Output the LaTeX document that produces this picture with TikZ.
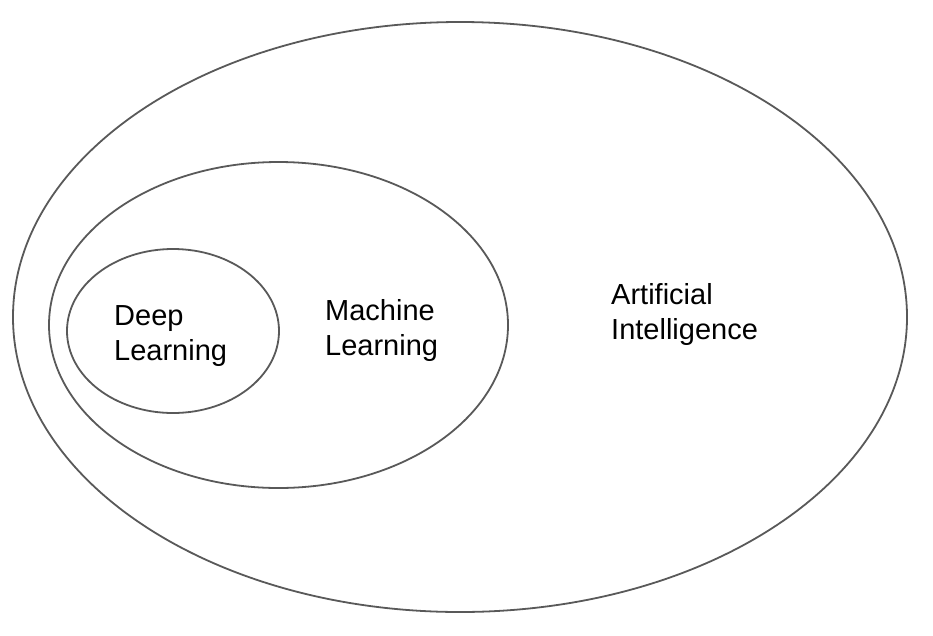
\documentclass[tikz,border=0pt]{standalone}
\usepackage{fontspec}
\setmainfont{Liberation Sans}
\usetikzlibrary{shapes.geometric}
\definecolor{ringgray}{HTML}{595959}

\tikzset{
  ring/.style = {draw = ringgray, line width = 1.8pt, ellipse, inner sep = 0pt},
  label/.style = {anchor = west, align = left, inner sep = 0pt,
    font = \fontsize{29}{35}\selectfont}
}

\begin{document}
\begin{tikzpicture}[x = 1pt, y = -1pt]

\useasboundingbox (0, 0) rectangle (933, 635);

% the three nested sets
\node [ring, minimum width = 894pt, minimum height = 590pt] (ai) at (460, 317) {};
\node [ring, minimum width = 459pt, minimum height = 326pt] (ml) at (278.5, 325) {};
\node [ring, minimum width = 212pt, minimum height = 164pt] (dl) at (173, 331) {};

% their names
\node [label] (dltext) at (114, 336) {Deep\\Learning};
\node [label] (mltext) at (325, 330) {Machine\\Learning};
\node [label] (aitext) at (611, 314) {Artificial\\Intelligence};

\end{tikzpicture}
\end{document}
